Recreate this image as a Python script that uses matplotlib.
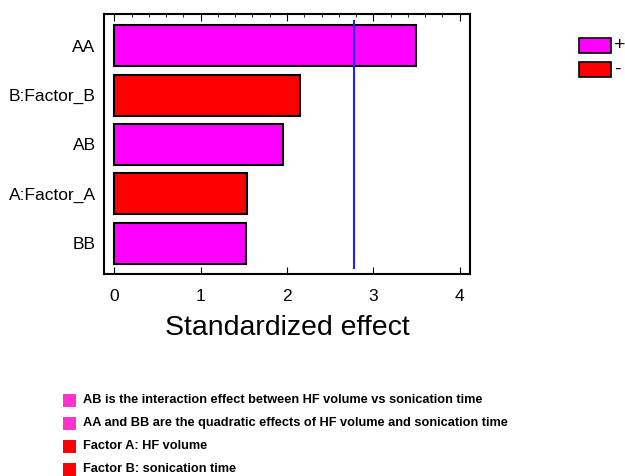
import matplotlib.pyplot as plt
from matplotlib.patches import Rectangle
from matplotlib.ticker import MultipleLocator

plt.rcParams['font.family'] = ['Liberation Sans', 'DejaVu Sans']

terms = ['AA', 'B:Factor_B', 'AB', 'A:Factor_A', 'BB']
effects = [3.50, 2.15, 1.95, 1.54, 1.53]
signs = ['+', '-', '+', '-', '+']
critical = 2.78
notes = ['AB is the interaction effect between HF volume vs sonication time',
         'AA and BB are the quadratic effects of HF volume and sonication time',
         'Factor A: HF volume',
         'Factor B: sonication time']
note_colors = ['#ff33cc', '#ff33cc', '#ff0000', '#ff0000']

sign_color = {'+': '#ff00ff', '-': '#ff0000'}

fig = plt.figure(figsize=(6.25, 4.76), dpi=100)
ax = fig.add_axes([0.1664, 0.4244, 0.5856, 0.5462])

ypos = list(range(len(terms)))
ax.barh(ypos, effects, height=0.83, color=[sign_color[s] for s in signs],
        edgecolor='black', linewidth=1.5)
ax.plot([critical, critical], [-0.5, 4.5], color='#2020ff', linewidth=1.5)

ax.set_xlim(-0.12, 4.12)
ax.set_ylim(4.62, -0.64)
ax.set_yticks(ypos)
ax.set_yticklabels(terms, fontsize=12.5)
ax.xaxis.set_major_locator(MultipleLocator(1))
ax.xaxis.set_minor_locator(MultipleLocator(0.2))
ax.tick_params(axis='x', which='both', direction='in', top=True, bottom=True,
               labelsize=12.5, pad=11)
ax.tick_params(axis='x', which='major', length=5)
ax.tick_params(axis='x', which='minor', length=2.5, bottom=False)
ax.tick_params(axis='y', length=0, pad=6)
for sp in ax.spines.values():
    sp.set_linewidth(1.5)
ax.set_xlabel('Standardized effect', fontsize=20.5, labelpad=8)

# sign legend on the right
for i, s in enumerate(['+', '-']):
    y0 = 1 - (53 + 24 * i) / 476
    fig.patches.append(Rectangle((579 / 625, y0), 32 / 625, 15 / 476,
                                 transform=fig.transFigure, facecolor=sign_color[s],
                                 edgecolor='black', linewidth=1.2))
    fig.text(614 / 625, y0 + 7.5 / 476, s, fontsize=14, va='center', ha='left')

# notes at the bottom
for i, (t, c) in enumerate(zip(notes, note_colors)):
    yc = 1 - (400 + 23 * i) / 476
    fig.patches.append(Rectangle((63 / 625, yc - 6.5 / 476), 13 / 625, 13 / 476,
                                 transform=fig.transFigure, facecolor=c, edgecolor='none'))
    fig.text(83 / 625, yc, t, fontsize=9.2, fontweight='bold', va='center', ha='left')

fig.savefig('out.png', dpi=100)
